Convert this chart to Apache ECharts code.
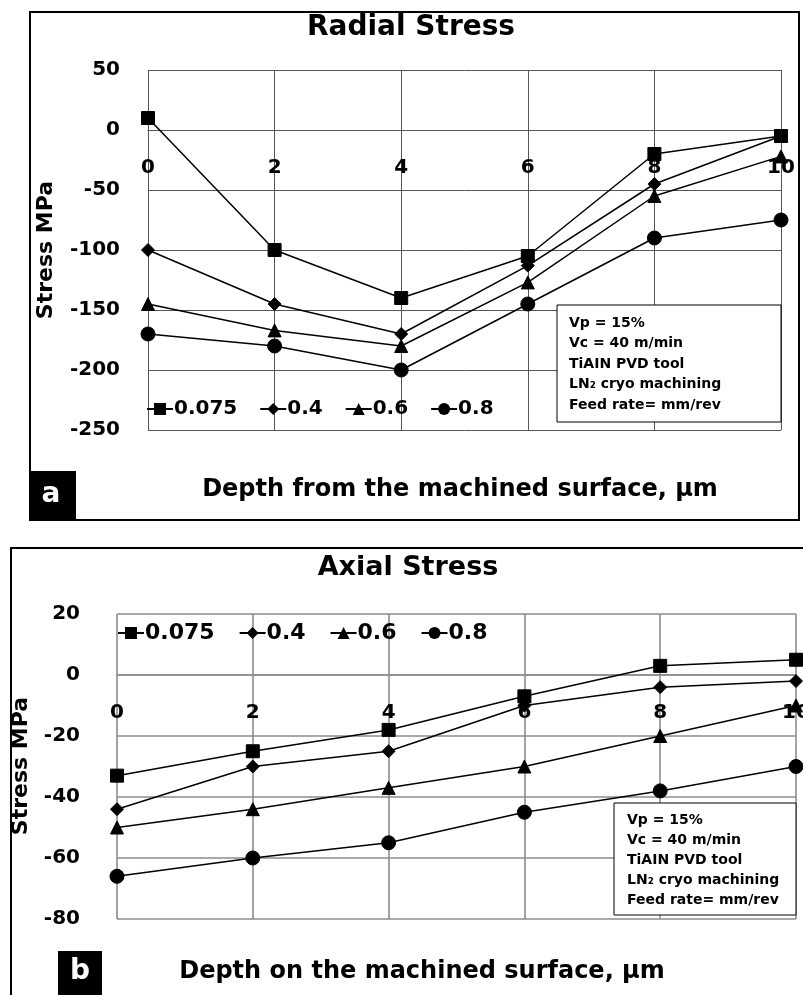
<!DOCTYPE html>
<html>
<head>
<meta charset="utf-8">
<script src="https://cdn.jsdelivr.net/npm/echarts@6/dist/echarts.min.js"></script>
<style>
  html, body { margin: 0; padding: 0; background: #fff; }
  #chart { width: 803px; height: 995px; }
</style>
</head>
<body>
<div id="chart"></div>
<script>
// Depth positions (µm) shared by both panels
const depth = [0, 2, 4, 6, 8, 10];

// Feed rates (mm/rev) used as series names
const feedRates = ['0.075', '0.4', '0.6', '0.8'];

// Panel a: radial residual stress (MPa)
const radial075 = [10, -100, -140, -105, -20, -5];
const radial04  = [-100, -145, -170, -113, -45, -5];
const radial06  = [-145, -167, -180, -127, -55, -22];
const radial08  = [-170, -180, -200, -145, -90, -75];

// Panel b: axial residual stress (MPa)
const axial075 = [-33, -25, -18, -7, 3, 5];
const axial04  = [-44, -30, -25, -10, -4, -2];
const axial06  = [-50, -44, -37, -30, -20, -10];
const axial08  = [-66, -60, -55, -45, -38, -30];

// Axis ranges
const radialRange = { min: -250, max: 50, step: 50 };
const axialRange  = { min: -80, max: 20, step: 20 };
const depthRange  = { min: 0, max: 10, step: 2 };

// Process parameters in the note boxes
const noteLines = ['Vp = 15%', 'Vc = 40 m/min', 'TiAIN PVD tool', 'LN\u2082 cryo machining', 'Feed rate= mm/rev'];

const FONT = 'DejaVu Sans';
const markers = ['rect', 'diamond', 'triangle', 'circle'];
const markerSizes = [13, 13, 13, 14];

// Plot boxes of the two panels
const gridA = { left: 148, right: 22, top: 70, height: 360 };
const gridB = { left: 117, right: 7, top: 614, height: 305 };

function pairs(ys) { return depth.map((x, i) => [x, ys[i]]); }

function makeSeries(sets, gridIdx) {
  return sets.map((ys, i) => ({
    name: feedRates[i],
    type: 'line',
    xAxisIndex: gridIdx,
    yAxisIndex: gridIdx,
    data: pairs(ys),
    symbol: markers[i],
    symbolSize: markerSizes[i],
    showAllSymbol: true,
    lineStyle: { color: '#000', width: 1.5 },
    itemStyle: { color: '#000', borderColor: '#000' },
    emphasis: { disabled: true },
    z: 5
  }));
}

// The depth axis runs along the zero stress line: shift it up from the
// bottom edge by the distance of zero from the lower limit.
function zeroOffset(grid, range) {
  return -grid.height * (0 - range.min) / (range.max - range.min);
}

function xAxisCfg(gridIdx, grid, range, gridColor, gridWidth) {
  return {
    gridIndex: gridIdx, type: 'value', position: 'bottom',
    offset: zeroOffset(grid, range),
    min: depthRange.min, max: depthRange.max, interval: depthRange.step,
    axisLine: { show: true, onZero: false, lineStyle: { color: gridColor, width: gridWidth } },
    axisTick: { show: false },
    axisLabel: { margin: 28, fontSize: 20, fontWeight: 'bold', fontFamily: FONT, color: '#000' },
    splitLine: { show: true, lineStyle: { color: gridColor, width: gridWidth } }
  };
}

function yAxisCfg(gridIdx, range, margin, gridColor, gridWidth) {
  return {
    gridIndex: gridIdx, type: 'value', position: 'left',
    min: range.min, max: range.max, interval: range.step,
    axisLine: { show: false, onZero: false },
    axisTick: { show: false },
    axisLabel: { margin: margin, fontSize: 20, fontWeight: 'bold', fontFamily: FONT, color: '#000' },
    splitLine: { show: true, lineStyle: { color: gridColor, width: gridWidth } }
  };
}

function legendCfg(left, top, size, gap) {
  return {
    left: left, top: top, orient: 'horizontal',
    data: feedRates.map(n => ({ name: n })),
    itemWidth: 26, itemHeight: 15, itemGap: gap,
    padding: 0,
    selectedMode: false,
    textStyle: { fontSize: size, fontWeight: 'bold', fontFamily: FONT, color: '#000', padding: [0, 0, 0, -4] }
  };
}

function txt(text, x, y, size, opts) {
  opts = opts || {};
  return {
    type: 'text', x: x, y: y, rotation: opts.rotation || 0, z: 20,
    style: {
      text: text, fill: opts.fill || '#000',
      font: 'bold ' + size + 'px "' + FONT + '"',
      textAlign: opts.align || 'center', textVerticalAlign: 'middle'
    }
  };
}

function noteBox(x, y, w, h, textX, firstY, step) {
  const items = [{
    type: 'rect', shape: { x: x, y: y, width: w, height: h }, z: 15,
    style: { fill: '#fff', stroke: '#000', lineWidth: 1 }
  }];
  noteLines.forEach((line, i) => {
    items.push(txt(line, textX, firstY + i * step, 14, { align: 'left' }));
  });
  return items;
}

const chart = echarts.init(document.getElementById('chart'), null, { renderer: 'canvas' });

const option = {
  animation: false,
  backgroundColor: '#fff',
  grid: [
    Object.assign({ outerBoundsMode: 'none' }, gridA),
    Object.assign({ outerBoundsMode: 'none' }, gridB)
  ],
  xAxis: [
    xAxisCfg(0, gridA, radialRange, '#555', 1),
    xAxisCfg(1, gridB, axialRange, '#8c8c8c', 1.6)
  ],
  yAxis: [
    yAxisCfg(0, radialRange, 28, '#555', 1),
    yAxisCfg(1, axialRange, 37, '#8c8c8c', 1.6)
  ],
  legend: [legendCfg(146, 399, 20, 22), legendCfg(117, 622, 22, 24)],
  series: makeSeries([radial075, radial04, radial06, radial08], 0)
    .concat(makeSeries([axial075, axial04, axial06, axial08], 1)),
  graphic: [
    // Panel frames
    { type: 'rect', shape: { x: 30, y: 12, width: 769, height: 508 }, z: 1, silent: true,
      style: { fill: 'none', stroke: '#000', lineWidth: 2 } },
    { type: 'rect', shape: { x: 11, y: 548, width: 800, height: 470 }, z: 1, silent: true,
      style: { fill: 'none', stroke: '#000', lineWidth: 2 } },

    // Titles
    txt('Radial Stress', 411, 28, 28),
    txt('Axial Stress', 408, 568, 27),

    // Axis titles
    txt('Depth from the machined surface, \u00b5m', 460, 490, 24),
    txt('Depth on the machined surface, \u00b5m', 422, 972, 24),
    txt('Stress MPa', 46, 250, 22, { rotation: Math.PI / 2 }),
    txt('Stress MPa', 21, 766, 22, { rotation: Math.PI / 2 }),

    // Panel tags
    { type: 'rect', shape: { x: 30, y: 471, width: 46, height: 49 }, z: 18, style: { fill: '#000' } },
    txt('a', 51, 495, 28, { fill: '#fff' }),
    { type: 'rect', shape: { x: 58, y: 951, width: 44, height: 50 }, z: 18, style: { fill: '#000' } },
    txt('b', 80, 972, 28, { fill: '#fff' })
  ]
    .concat(noteBox(557, 305, 224, 117, 569, 323, 20.5))
    .concat(noteBox(614, 803, 182, 112, 627, 820, 20))
};

chart.setOption(option);
</script>
</body>
</html>
